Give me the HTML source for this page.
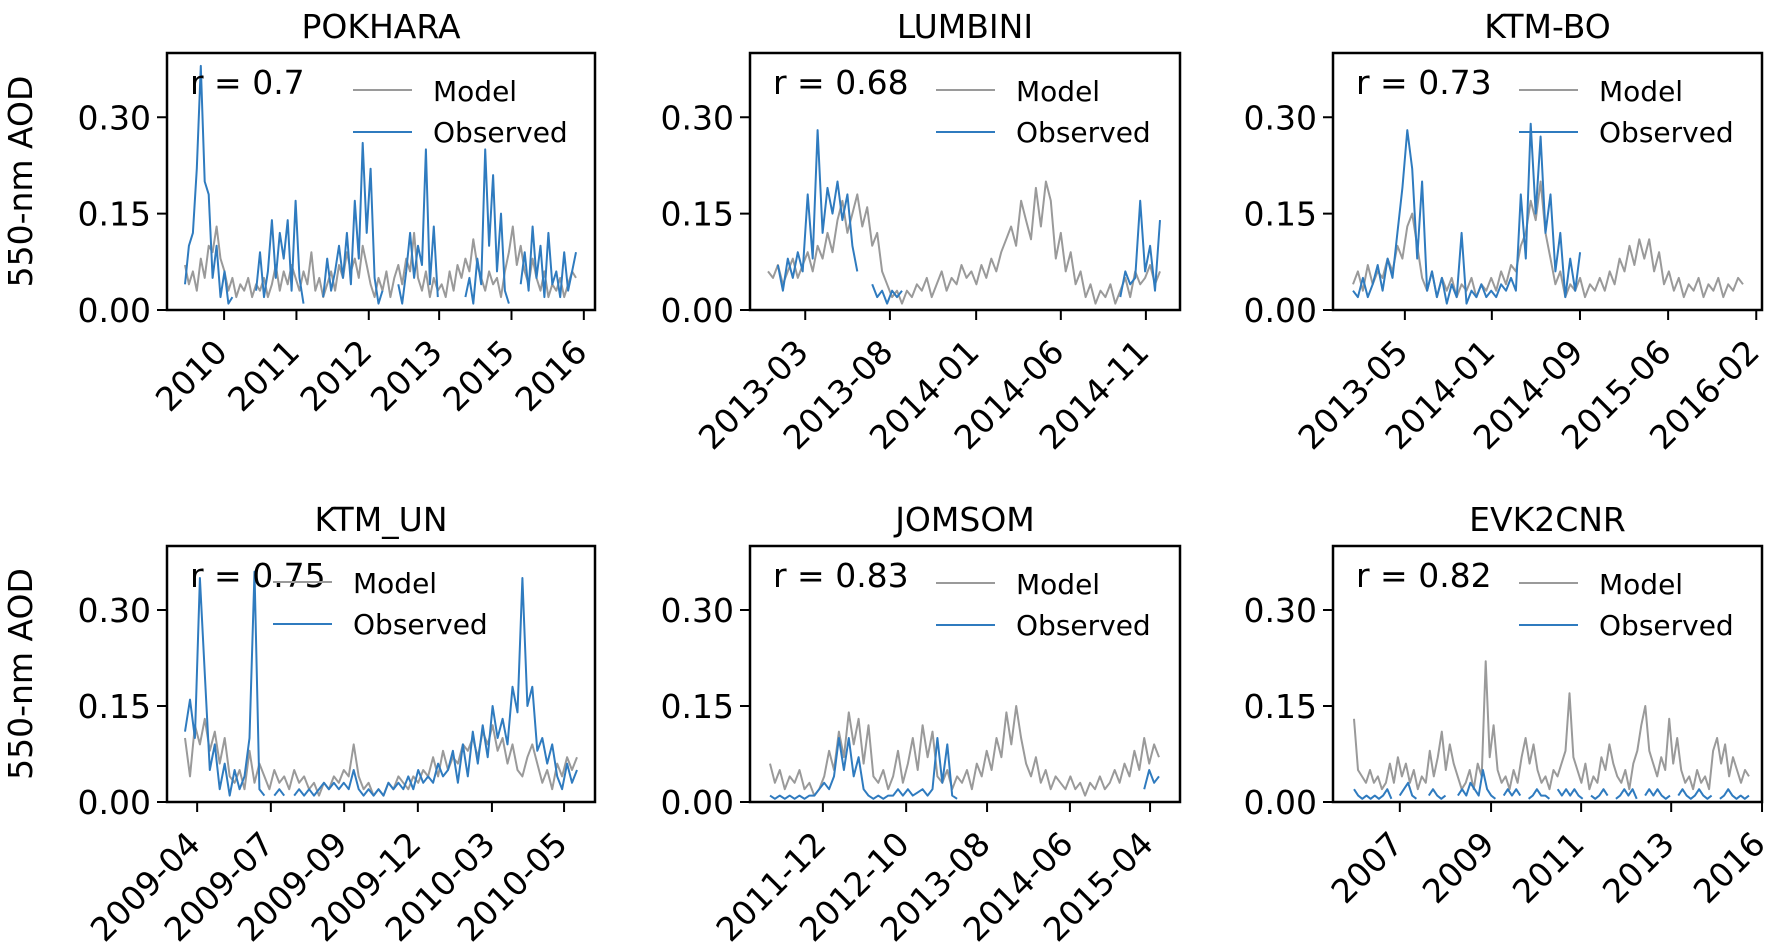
<!DOCTYPE html>
<html><head><meta charset="utf-8"><style>
html,body{margin:0;padding:0;background:#fff;}
svg{display:block;font-family:"DejaVu Sans","Liberation Sans",sans-serif;}
</style></head><body>
<svg id="fig" width="1772" height="950" viewBox="0 0 1772 950"></svg>
<script>
const titles = ["POKHARA","LUMBINI","KTM-BO","KTM_UN","JOMSOM","EVK2CNR"];
const rValues = ["0.7","0.68","0.73","0.75","0.83","0.82"];
const yTicks = [0.00,0.15,0.30];
const yTickLabels = ["0.00","0.15","0.30"];
const xTickLabels1 = ["2010","2011","2012","2013","2015","2016"];
const xTickLabels2 = ["2013-03","2013-08","2014-01","2014-06","2014-11"];
const xTickLabels3 = ["2013-05","2014-01","2014-09","2015-06","2016-02"];
const xTickLabels4 = ["2009-04","2009-07","2009-09","2009-12","2010-03","2010-05"];
const xTickLabels5 = ["2011-12","2012-10","2013-08","2014-06","2015-04"];
const xTickLabels6 = ["2007","2009","2011","2013","2016"];
// tick positions as fractions of each panel's time axis (0 = first sample, 1 = last sample)
const xTickFrac1 = [0.10,0.285,0.47,0.65,0.835,1.02];
const xTickFrac2 = [0.095,0.311,0.531,0.747,0.964];
const xTickFrac3 = [0.133,0.356,0.582,0.808,1.034];
const xTickFrac4 = [0.031,0.219,0.406,0.594,0.783,0.967];
const xTickFrac5 = [0.136,0.350,0.558,0.771,0.977];
const xTickFrac6 = [0.116,0.347,0.575,0.803,1.033];

const model1 = [0.07,0.04,0.06,0.03,0.08,0.05,0.1,0.09,0.13,0.08,0.06,0.03,0.05,0.02,0.04,0.03,0.05,0.02,0.04,0.03,0.05,0.02,0.04,0.07,0.03,0.06,0.04,0.07,0.05,0.03,0.06,0.04,0.09,0.03,0.05,0.02,0.04,0.06,0.03,0.07,0.05,0.09,0.06,0.08,0.05,0.1,0.07,0.04,0.02,0.05,0.03,0.06,0.02,0.05,0.07,0.04,0.08,0.06,0.12,0.05,0.03,0.06,0.02,0.05,0.03,0.04,0.02,0.06,0.03,0.07,0.05,0.08,0.06,0.11,0.07,0.05,0.03,0.06,0.04,0.05,0.02,0.06,0.09,0.13,0.07,0.1,0.06,0.04,0.08,0.05,0.03,0.06,0.02,0.04,0.03,0.05,0.02,0.04,0.06,0.05];
const obs1 = [0.04,0.1,0.12,0.22,0.38,0.2,0.18,0.05,0.1,0.02,0.06,0.01,0.02,null,null,null,null,null,0.03,0.09,0.02,0.06,0.14,0.05,0.12,0.08,0.14,0.03,0.17,0.05,0.01,null,null,null,null,0.02,0.08,0.03,0.06,0.1,0.05,0.12,0.04,0.17,0.08,0.26,0.12,0.22,0.05,0.01,0.03,null,null,null,0.04,0.01,0.06,0.12,0.05,0.1,0.07,0.25,0.04,0.13,0.02,null,null,null,null,null,null,0.02,0.05,0.01,0.08,0.04,0.25,0.1,0.21,0.06,0.15,0.03,0.01,null,null,0.04,0.09,0.03,0.13,0.05,0.1,0.02,0.12,0.04,0.06,0.02,0.09,0.03,0.06,0.09];
const model2 = [0.06,0.05,0.07,0.04,0.06,0.08,0.05,0.07,0.09,0.06,0.1,0.08,0.12,0.09,0.14,0.17,0.12,0.15,0.18,0.13,0.16,0.1,0.12,0.06,0.04,0.02,0.03,0.01,0.03,0.02,0.04,0.03,0.05,0.02,0.04,0.06,0.03,0.05,0.04,0.07,0.05,0.06,0.04,0.07,0.05,0.08,0.06,0.09,0.11,0.13,0.1,0.17,0.14,0.11,0.19,0.13,0.2,0.17,0.08,0.12,0.06,0.09,0.04,0.06,0.02,0.04,0.01,0.03,0.02,0.04,0.01,0.03,0.05,0.02,0.06,0.04,0.05,0.07,0.04,0.06];
const obs2 = [null,null,0.07,0.03,0.08,0.05,0.09,0.06,0.18,0.08,0.28,0.12,0.19,0.15,0.2,0.14,0.18,0.1,0.06,null,null,0.04,0.02,0.03,0.01,0.03,0.02,0.03,null,null,null,null,null,null,null,null,null,null,null,null,null,null,null,null,null,null,null,null,null,null,null,null,null,null,null,null,null,null,null,null,null,null,null,null,null,null,null,null,null,null,null,0.02,0.06,0.04,0.05,0.17,0.06,0.1,0.03,0.14];
const model3 = [0.04,0.06,0.03,0.07,0.04,0.06,0.05,0.08,0.06,0.1,0.08,0.13,0.15,0.1,0.05,0.03,0.06,0.02,0.05,0.03,0.05,0.02,0.04,0.03,0.05,0.02,0.04,0.03,0.05,0.03,0.06,0.04,0.07,0.06,0.1,0.12,0.17,0.14,0.2,0.12,0.08,0.04,0.06,0.02,0.04,0.03,0.05,0.02,0.04,0.03,0.05,0.03,0.06,0.04,0.08,0.06,0.1,0.07,0.11,0.08,0.11,0.06,0.09,0.04,0.06,0.03,0.05,0.02,0.04,0.03,0.05,0.02,0.04,0.03,0.05,0.02,0.04,0.03,0.05,0.04];
const obs3 = [0.03,0.02,0.05,0.02,0.04,0.07,0.03,0.08,0.05,0.12,0.19,0.28,0.22,0.08,0.2,0.03,0.06,0.02,0.05,0.01,0.04,0.02,0.12,0.01,0.03,0.02,0.04,0.02,0.03,0.02,0.04,0.03,0.05,0.03,0.18,0.08,0.29,0.15,0.27,0.12,0.18,0.06,0.12,0.02,0.08,0.03,0.09,null,null,null,null,null,null,null,null,null,null,null,null,null,null,null,null,null,null,null,null,null,null,null,null,null,null,null,null,null,null,null,null,null];
const model4 = [0.1,0.04,0.12,0.09,0.13,0.08,0.11,0.06,0.1,0.04,0.03,0.05,0.02,0.08,0.03,0.06,0.04,0.02,0.05,0.03,0.04,0.02,0.05,0.03,0.04,0.02,0.03,0.01,0.03,0.02,0.04,0.03,0.05,0.04,0.09,0.04,0.02,0.03,0.01,0.02,0.01,0.03,0.02,0.04,0.03,0.02,0.04,0.03,0.05,0.04,0.07,0.04,0.08,0.05,0.07,0.06,0.09,0.08,0.1,0.07,0.11,0.09,0.12,0.08,0.1,0.06,0.09,0.05,0.04,0.07,0.09,0.06,0.03,0.05,0.02,0.06,0.04,0.07,0.05,0.07];
const obs4 = [0.11,0.16,0.1,0.35,0.2,0.05,0.09,0.02,0.06,0.01,0.05,0.02,0.04,0.1,0.36,0.02,0.01,null,0.01,0.02,0.01,null,0.01,0.02,0.01,0.02,0.01,0.02,0.03,0.02,0.03,0.02,0.03,0.02,0.05,0.02,0.01,0.02,0.01,0.02,0.01,0.03,0.02,0.03,0.02,0.04,0.02,0.05,0.03,0.04,0.03,0.06,0.04,0.05,0.08,0.03,0.09,0.04,0.11,0.06,0.12,0.07,0.15,0.1,0.13,0.09,0.18,0.14,0.35,0.15,0.18,0.08,0.1,0.06,0.09,0.04,0.02,0.06,0.03,0.05];
const model5 = [0.06,0.03,0.05,0.02,0.04,0.03,0.05,0.02,0.03,0.01,0.02,0.04,0.08,0.05,0.11,0.07,0.14,0.09,0.13,0.06,0.12,0.04,0.03,0.05,0.02,0.04,0.08,0.03,0.06,0.1,0.05,0.12,0.07,0.11,0.04,0.03,0.05,0.02,0.04,0.03,0.05,0.02,0.06,0.04,0.08,0.05,0.1,0.07,0.14,0.09,0.15,0.1,0.06,0.04,0.07,0.03,0.05,0.02,0.04,0.03,0.02,0.04,0.02,0.03,0.01,0.03,0.02,0.04,0.02,0.03,0.05,0.03,0.06,0.04,0.08,0.05,0.1,0.06,0.09,0.07];
const obs5 = [0.01,0.005,0.01,0.005,0.01,0.005,0.01,0.005,0.01,0.01,0.02,0.03,0.02,0.04,0.1,0.05,0.1,0.04,0.07,0.02,0.01,0.005,0.01,0.005,0.01,0.01,0.02,0.01,0.02,0.01,0.015,0.02,0.01,0.02,0.1,0.03,0.09,0.01,0.005,null,null,null,null,null,null,null,null,null,null,null,null,null,null,null,null,null,null,null,null,null,null,null,null,null,null,null,null,null,null,null,null,null,null,null,null,null,0.02,0.05,0.03,0.04];
const model6 = [0.13,0.05,0.04,0.03,0.05,0.03,0.04,0.02,0.03,0.06,0.03,0.07,0.04,0.06,0.03,0.05,0.02,0.04,0.03,0.08,0.04,0.07,0.11,0.05,0.09,0.06,0.04,0.02,0.03,0.05,0.02,0.06,0.04,0.22,0.07,0.12,0.05,0.03,0.04,0.02,0.05,0.03,0.07,0.1,0.06,0.09,0.05,0.03,0.04,0.02,0.05,0.04,0.06,0.08,0.17,0.07,0.05,0.03,0.06,0.02,0.04,0.03,0.07,0.05,0.09,0.06,0.04,0.03,0.05,0.02,0.06,0.08,0.12,0.15,0.08,0.06,0.04,0.07,0.05,0.13,0.06,0.1,0.05,0.03,0.04,0.02,0.05,0.03,0.04,0.02,0.08,0.1,0.06,0.09,0.04,0.07,0.05,0.03,0.05,0.04];
const obs6 = [0.02,0.01,0.005,0.01,0.005,0.01,0.005,0.01,0.02,0.005,null,0.01,0.02,0.03,0.01,0.005,null,null,0.01,0.02,0.01,0.005,0.01,null,null,0.01,0.02,0.01,0.03,0.02,0.01,0.05,0.02,0.01,0.005,null,0.01,0.02,0.01,0.02,0.01,null,0.005,0.01,0.02,0.01,0.01,0.005,null,0.02,0.01,0.02,0.01,0.02,0.01,0.005,null,0.01,0.005,0.01,0.02,0.01,null,0.005,0.01,0.02,0.01,0.02,0.005,null,0.01,0.02,0.01,0.02,0.01,0.005,0.01,null,0.01,0.02,0.01,0.005,0.01,0.02,0.01,0.005,0.01,null,0.005,0.01,0.02,0.01,0.005,0.01,0.005,0.01];

const NS = "http://www.w3.org/2000/svg";
const svg = document.getElementById('fig');
function mk(tag, attrs, parent){ const e=document.createElementNS(NS,tag); for(const k in attrs) e.setAttribute(k,attrs[k]); (parent||svg).appendChild(e); return e; }

const panels = [
 {ax:[167,53,595,310], data:[185,576], ticks:xTickFrac1, labels:xTickLabels1, model:model1, obs:obs1, leg:0},
 {ax:[750,53,1180,310], data:[768,1160], ticks:xTickFrac2, labels:xTickLabels2, model:model2, obs:obs2, leg:0},
 {ax:[1333,53,1762,310], data:[1353,1743], ticks:xTickFrac3, labels:xTickLabels3, model:model3, obs:obs3, leg:0},
 {ax:[167,546,595,802], data:[185,577], ticks:xTickFrac4, labels:xTickLabels4, model:model4, obs:obs4, leg:1},
 {ax:[750,546,1180,802], data:[770,1159], ticks:xTickFrac5, labels:xTickLabels5, model:model5, obs:obs5, leg:0},
 {ax:[1333,546,1762,802], data:[1354,1749], ticks:xTickFrac6, labels:xTickLabels6, model:model6, obs:obs6, leg:0}
];

panels.forEach((p,i)=>{
  const [L,T,R,B]=p.ax;
  const g = mk('g',{});
  
  
  const yScale = v => B - v*(B-T)/0.40;
  const xScale = f => p.data[0] + f*(p.data[1]-p.data[0]);
  const t = mk('text',{x:(L+R)/2, y:T-15, 'font-size':33, 'text-anchor':'middle', fill:'#000'}, g);
  t.textContent = titles[i];
  
  
  function series(arr, color, name){
    let d=''; let pen=false;
    arr.forEach((v,k)=>{
      if(v===null){pen=false;return;}
      const x=xScale(k/(arr.length-1)), y=yScale(v);
      d += (pen?'L':'M')+x.toFixed(1)+' '+y.toFixed(1)+' ';
      pen=true;
    });
    const pa = mk('path',{d:d, fill:'none', stroke:color, 'stroke-width':2, 'stroke-linejoin':'round'}, g);
    
    
  }
  series(p.model, '#9a9a9a', 'model-line');
  series(p.obs, '#2f7bbf', 'observed-line');
  const fr = mk('rect',{x:L, y:T, width:R-L, height:B-T, fill:'none', stroke:'#000', 'stroke-width':2.5}, g);
  
  
  yTicks.forEach((v,k)=>{
    const y=yScale(v);
    mk('line',{x1:L-10, x2:L, y1:y, y2:y, stroke:'#000', 'stroke-width':2}, g);
    const tl = mk('text',{x:L-16, y:y+12, 'font-size':33, 'text-anchor':'end'}, g);
    tl.textContent = yTickLabels[k];
    
    
  });
  p.ticks.forEach((f,k)=>{
    const x=xScale(f);
    mk('line',{x1:x, x2:x, y1:B, y2:B+10, stroke:'#000', 'stroke-width':2}, g);
    const tl = mk('text',{'font-size':33, 'text-anchor':'end', transform:'translate('+(x+5)+','+(B+44)+') rotate(-45)'}, g);
    tl.textContent = p.labels[k];
    
    
  });
  const rt = mk('text',{x:L+23, y:T+41, 'font-size':33}, g);
  rt.textContent = 'r = '+rValues[i];
  
  
  const lx = p.leg ? L+106 : L+186;
  const ty = p.leg ? T-1 : T;
  const lg = mk('g',{}, g);
  
  
  mk('line',{x1:lx, x2:lx+59, y1:ty+37, y2:ty+37, stroke:'#9a9a9a', 'stroke-width':2}, lg);
  mk('line',{x1:lx, x2:lx+59, y1:ty+79, y2:ty+79, stroke:'#2f7bbf', 'stroke-width':2}, lg);
  const m = mk('text',{x:lx+80, y:ty+48, 'font-size':28}, lg);
  m.textContent='Model';
  
  
  const o = mk('text',{x:lx+80, y:ty+89, 'font-size':28}, lg);
  o.textContent='Observed';
  
  
});
[[53,310],[546,802]].forEach(([T,B])=>{
  const yt = mk('text',{'font-size':33,'text-anchor':'middle', transform:'translate(32,'+((T+B)/2)+') rotate(-90)'});
  yt.textContent='550-nm AOD';
  
  
});
</script>
</body></html>
